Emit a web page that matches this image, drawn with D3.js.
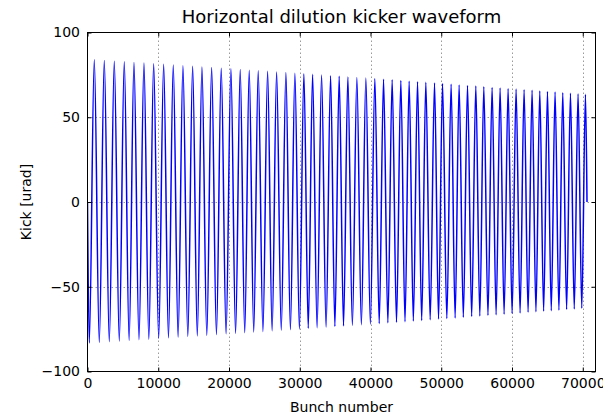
<!DOCTYPE html>
<html>
<head>
<meta charset="utf-8">
<script src="https://cdn.jsdelivr.net/npm/d3@7"></script>
<style>
  body { margin: 0; background: #fff; }
  svg { display: block; }
  text { font-family: "DejaVu Sans", sans-serif; fill: #000; }
</style>
</head>
<body>
<svg id="chart" width="603" height="416"></svg>
<script>
// Kicker waveform: crest and trough of every oscillation (bunch number, kick in urad)
const crestBunch = [961, 2373, 3786, 5199, 6569, 7982, 9352, 10765, 12121, 13491,
  14862, 16175, 17546, 18902, 20272, 21586, 22858, 24129, 25457, 26728,
  28042, 29313, 30585, 31814, 33085, 34357, 35572, 36801, 38072, 39344,
  40615, 41844, 43059, 44288, 45461, 46647, 47819, 49049, 50179, 51394,
  52524, 53711, 54884, 56014, 57186, 58316, 59447, 60577, 61707, 62837,
  63925, 65012, 66086, 67173, 68261, 69335, 70381];
const crestKick = [83.9, 83.5, 83.1, 82.7, 82.3, 82.0, 81.6, 81.2, 80.8, 80.4,
  80.1, 79.7, 79.3, 78.9, 78.6, 78.2, 77.8, 77.5, 77.1, 76.7,
  76.4, 76.0, 75.6, 75.3, 74.9, 74.5, 74.2, 73.8, 73.5, 73.1,
  72.8, 72.4, 72.1, 71.7, 71.3, 71.0, 70.6, 70.2, 69.9, 69.5,
  69.1, 68.7, 68.4, 68.0, 67.6, 67.3, 66.9, 66.6, 66.2, 65.9,
  65.5, 65.2, 64.9, 64.5, 64.2, 63.8, 63.5];
const troughBunch = [250, 1667, 3080, 4493, 5884, 7276, 8667, 10059, 11443, 12806,
  14177, 15519, 16861, 18224, 19587, 20929, 22222, 23494, 24793, 26093,
  27385, 28678, 29949, 31200, 32450, 33721, 34965, 36187, 37437, 38708,
  39980, 41230, 42452, 43674, 44875, 46054, 47233, 48434, 49614, 50787,
  51959, 53118, 54298, 55449, 56600, 57751, 58882, 60012, 61142, 62272,
  63381, 64469, 65549, 66630, 67717, 68798, 69858];
const troughKick = [-83.2, -82.8, -82.4, -82.0, -81.6, -81.2, -80.9, -80.5, -80.1, -79.7,
  -79.3, -79.0, -78.6, -78.2, -77.8, -77.5, -77.1, -76.7, -76.4, -76.0,
  -75.6, -75.3, -74.9, -74.5, -74.2, -73.8, -73.4, -73.1, -72.7, -72.4,
  -72.0, -71.7, -71.3, -71.0, -70.6, -70.2, -69.9, -69.5, -69.1, -68.8,
  -68.4, -68.0, -67.6, -67.3, -66.9, -66.5, -66.2, -65.8, -65.5, -65.1,
  -64.8, -64.4, -64.1, -63.8, -63.4, -63.1, -62.7];
// The pulse starts and ends at zero kick
const startPoint = { bunch: 0, kick: 0 };
const endPoint = { bunch: 70600, kick: 0 };

const xTicks = [0, 10000, 20000, 30000, 40000, 50000, 60000, 70000];
const yTicks = [-100, -50, 0, 50, 100];
const xDomain = [0, 71800];
const yDomain = [-100, 100];

const svg = d3.select("#chart");
const plotLeft = 87.5, plotRight = 595.5, plotTop = 32.5, plotBottom = 371.5;

const x = d3.scaleLinear().domain(xDomain).range([plotLeft, plotRight]);
const y = d3.scaleLinear().domain(yDomain).range([plotBottom, plotTop]);

// Grid lines (dotted) on interior ticks
const grid = svg.append("g").attr("stroke", "#9a9a9a").attr("stroke-width", 1)
  .attr("stroke-dasharray", "1.5,2.5");
grid.selectAll("line.gx").data(xTicks.filter(t => t > xDomain[0] && t < xDomain[1]))
  .join("line").attr("class", "gx")
  .attr("x1", d => Math.round(x(d)) + 0.5).attr("x2", d => Math.round(x(d)) + 0.5)
  .attr("y1", plotTop).attr("y2", plotBottom);
grid.selectAll("line.gy").data(yTicks.filter(t => t > yDomain[0] && t < yDomain[1]))
  .join("line").attr("class", "gy")
  .attr("x1", plotLeft).attr("x2", plotRight)
  .attr("y1", d => Math.round(y(d)) + 0.5).attr("y2", d => Math.round(y(d)) + 0.5);

// Waveform
const points = [startPoint];
for (let i = 0; i < crestBunch.length; i++) {
  points.push({ bunch: troughBunch[i], kick: troughKick[i] });
  points.push({ bunch: crestBunch[i], kick: crestKick[i] });
}
points.push(endPoint);

svg.append("clipPath").attr("id", "plotClip")
  .append("rect").attr("x", plotLeft).attr("y", plotTop)
  .attr("width", plotRight - plotLeft).attr("height", plotBottom - plotTop);

const line = d3.line()
  .x(d => x(d.bunch)).y(d => y(d.kick))
  .curve(d3.curveMonotoneX);

svg.append("path").datum(points)
  .attr("clip-path", "url(#plotClip)")
  .attr("fill", "none").attr("stroke", "#0000ff").attr("stroke-width", 1.5)
  .attr("stroke-linejoin", "round")
  .attr("d", line);

// Axes with inward ticks on all four sides
const fontSize = "14px";
const axB = svg.append("g").attr("transform", `translate(0,${plotBottom})`)
  .call(d3.axisBottom(x).tickValues(xTicks).tickFormat(d3.format("d")).tickSize(-4).tickPadding(7));
const axT = svg.append("g").attr("transform", `translate(0,${plotTop})`)
  .call(d3.axisTop(x).tickValues(xTicks).tickFormat("").tickSize(-4));
const axL = svg.append("g").attr("transform", `translate(${plotLeft},0)`)
  .call(d3.axisLeft(y).tickValues(yTicks).tickFormat(d => d < 0 ? "\u2212" + Math.abs(d) : d).tickSize(-4).tickPadding(7.5));
const axR = svg.append("g").attr("transform", `translate(${plotRight},0)`)
  .call(d3.axisRight(y).tickValues(yTicks).tickFormat("").tickSize(-4));
[axB, axT, axL, axR].forEach(g => {
  g.select(".domain").remove();
  g.selectAll(".tick line").attr("stroke", "#000");
  g.selectAll("text").attr("font-size", fontSize).attr("font-family", "DejaVu Sans").attr("fill", "#000");
});

// Frame
svg.append("rect").attr("x", plotLeft).attr("y", plotTop)
  .attr("width", plotRight - plotLeft).attr("height", plotBottom - plotTop)
  .attr("fill", "none").attr("stroke", "#000").attr("stroke-width", 1);

// Title and axis labels
svg.append("text").attr("x", (plotLeft + plotRight) / 2).attr("y", 23)
  .attr("text-anchor", "middle").attr("font-size", "18px")
  .text("Horizontal dilution kicker waveform");
svg.append("text").attr("x", (plotLeft + plotRight) / 2).attr("y", 412)
  .attr("text-anchor", "middle").attr("font-size", "14px")
  .text("Bunch number");
svg.append("text").attr("transform", `translate(31,${(plotTop + plotBottom) / 2}) rotate(-90)`)
  .attr("text-anchor", "middle").attr("font-size", "14px")
  .text("Kick [urad]");
</script>
</body>
</html>
